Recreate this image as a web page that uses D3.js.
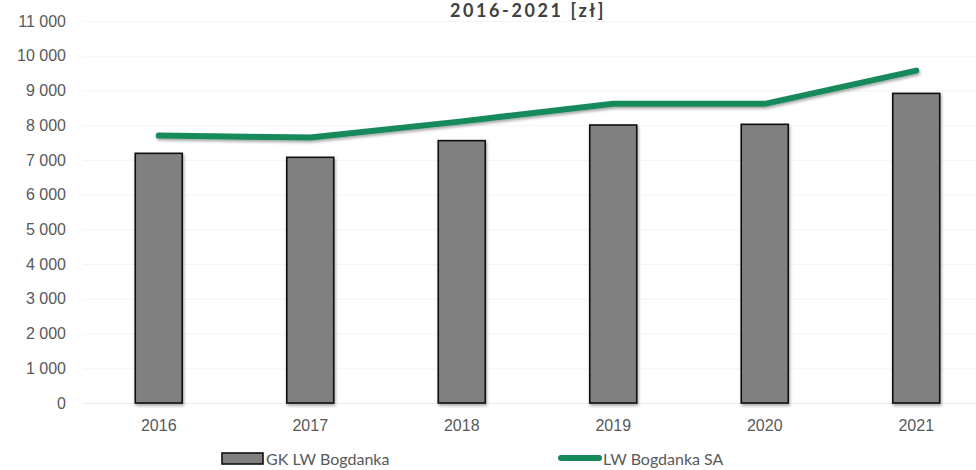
<!DOCTYPE html>
<html>
<head>
<meta charset="utf-8">
<script src="https://cdn.jsdelivr.net/npm/d3@7"></script>
<style>
  body { margin: 0; background: #fff; }
  svg { display: block; font-family: Lato, "Open Sans", sans-serif; }
</style>
</head>
<body>
<div id="chart"></div>
<script>
var years = ["2016", "2017", "2018", "2019", "2020", "2021"];
var groupValues = [7190, 7075, 7555, 8005, 8025, 8915];   // GK LW Bogdanka
var companyValues = [7700, 7645, 8110, 8620, 8615, 9570]; // LW Bogdanka SA
var yTicks = [0, 1000, 2000, 3000, 4000, 5000, 6000, 7000, 8000, 9000, 10000, 11000];
var seriesNames = ["GK LW Bogdanka", "LW Bogdanka SA"];

var svgWidth = 976, svgHeight = 470;
var margin = {top: 21, left: 83, bottom: 66};
var plotRight = 992;
var baseY = svgHeight - margin.bottom - 1;

var svg = d3.select("#chart").append("svg")
  .attr("width", svgWidth)
  .attr("height", svgHeight);

var defs = svg.append("defs");
var shadow = defs.append("filter").attr("id", "shadow")
  .attr("x", "-20%").attr("y", "-20%").attr("width", "140%").attr("height", "140%");
shadow.append("feDropShadow")
  .attr("dx", 1).attr("dy", 2).attr("stdDeviation", 1.6)
  .attr("flood-color", "#000").attr("flood-opacity", 0.35);

var xscale = d3.scaleBand()
  .domain(years)
  .range([margin.left, plotRight])
  .paddingInner(0).paddingOuter(0);
var yscale = d3.scaleLinear()
  .domain([0, 11000])
  .range([baseY, margin.top]);

// gridlines + y labels
var yAxis = d3.axisLeft(yscale)
  .tickValues(yTicks)
  .tickSize(-(svgWidth - margin.left))
  .tickPadding(17)
  .tickFormat(d => d3.format(",")(d).replace(/,/g, " "));
var gy = svg.append("g")
  .attr("transform", "translate(" + margin.left + ",0)")
  .call(yAxis);
gy.select(".domain").remove();
gy.selectAll("line").attr("stroke", "#f4f4f4");
gy.selectAll("text")
  .attr("fill", "#595959")
  .style("font-size", "16px");

// x labels
var xAxis = d3.axisBottom(xscale).tickSize(0).tickPadding(17);
var gx = svg.append("g")
  .attr("transform", "translate(0," + baseY + ")")
  .call(xAxis);
gx.select(".domain").attr("stroke", "#ebebeb");
gx.selectAll("text")
  .attr("fill", "#595959")
  .style("font-size", "16px");

// bars
var barW = 47;
svg.selectAll(".bar")
  .data(groupValues)
  .enter().append("rect")
  .attr("class", "bar")
  .attr("x", (d, i) => xscale(years[i]) + xscale.bandwidth() / 2 - barW / 2)
  .attr("y", d => yscale(d))
  .attr("width", barW)
  .attr("height", d => baseY - yscale(d))
  .attr("fill", "#808080")
  .attr("stroke", "#111")
  .attr("stroke-width", 1.6)
  .attr("filter", "url(#shadow)");

// line
var line = d3.line()
  .x((d, i) => xscale(years[i]) + xscale.bandwidth() / 2)
  .y(d => yscale(d));
svg.append("path")
  .datum(companyValues)
  .attr("d", line)
  .attr("fill", "none")
  .attr("stroke", "#178a5b")
  .attr("stroke-width", 6)
  .attr("stroke-linecap", "round")
  .attr("stroke-linejoin", "round")
  .attr("filter", "url(#shadow)");

// title
svg.append("text")
  .attr("x", 528)
  .attr("y", 17)
  .attr("text-anchor", "middle")
  .attr("fill", "#404040")
  .style("font-size", "18px")
  .style("font-weight", "bold")
  .style("letter-spacing", "2.6px")
  .text("2016-2021 [zł]");

// legend
var lg = svg.append("g");
lg.append("rect")
  .attr("x", 222).attr("y", 453)
  .attr("width", 41).attr("height", 11)
  .attr("fill", "#808080")
  .attr("stroke", "#111")
  .attr("stroke-width", 1.6);
lg.append("text")
  .attr("x", 266).attr("y", 465)
  .attr("fill", "#595959")
  .style("font-size", "16px")
  .text(seriesNames[0]);
lg.append("line")
  .attr("x1", 561).attr("x2", 599)
  .attr("y1", 458).attr("y2", 458)
  .attr("stroke", "#178a5b")
  .attr("stroke-width", 6)
  .attr("stroke-linecap", "round");
lg.append("text")
  .attr("x", 603).attr("y", 465)
  .attr("fill", "#595959")
  .style("font-size", "16px")
  .text(seriesNames[1]);
</script>
</body>
</html>
